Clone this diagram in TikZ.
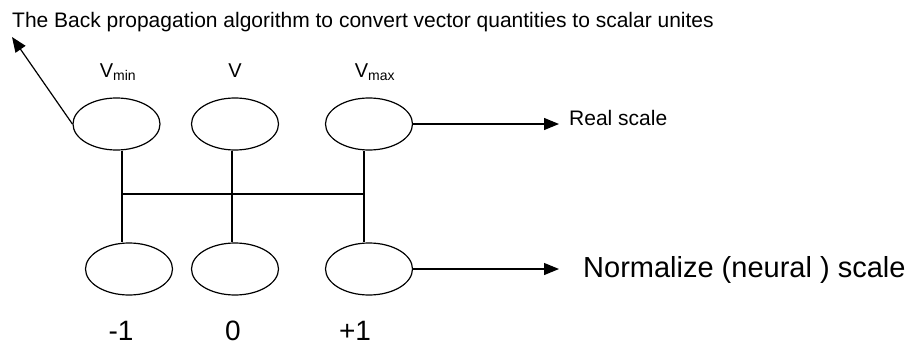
\documentclass[tikz,border=0pt]{standalone}
\usepackage{fontspec}
\setmainfont{Liberation Sans}
\usetikzlibrary{shapes.geometric,arrows.meta}
\begin{document}
\begin{tikzpicture}[x=1pt,y=-1pt,
  oval/.style={draw,ellipse,minimum width=87pt,minimum height=52pt,inner sep=0pt,line width=1.2pt},
  wire/.style={line width=1.2pt},
  arr/.style={line width=1.2pt,-{Triangle[length=15pt,width=12pt]}},
  lab/.style={inner sep=0pt,font=\fontsize{20}{20}\selectfont,anchor=base},
  big/.style={inner sep=0pt,font=\fontsize{28}{28}\selectfont,anchor=base}]
\useasboundingbox (0,0) rectangle (914,343);
\node[inner sep=0pt,anchor=base west,font=\fontsize{21}{21}\selectfont] (title) at (12,27) {The Back propagation algorithm to convert vector quantities to scalar unites};
\node[oval] (t1) at (116.5,124) {};
\node[oval] (t2) at (235,124) {};
\node[oval] (t3) at (369,124) {};
\node[oval] (b1) at (129,269) {};
\node[oval] (b2) at (235,269) {};
\node[oval] (b3) at (369,269) {};
\node[lab] (l1) at (118,77) {V\textsubscript{min}};
\node[lab] (l2) at (235,77) {V};
\node[lab] (l3) at (375,77) {V\textsubscript{max}};
\node[big] (n1) at (121,340) {-1};
\node[big] (n2) at (233,340) {0};
\node[big] (n3) at (355,340) {+1};
\node[inner sep=0pt,anchor=base west,font=\fontsize{21}{21}\selectfont] (real) at (569,125) {Real scale};
\node[inner sep=0pt,anchor=base west,font=\fontsize{29}{29}\selectfont] (norm) at (583,277) {Normalize (neural ) scale};
\coordinate (tip) at (12,37);
\coordinate (rtip) at (559,124);
\coordinate (ntip) at (559,267);
\coordinate (j1) at (122,194);
\coordinate (j2) at (232,194);
\coordinate (j3) at (364,194);
\draw[wire] (j1 |- t1.south) -- (j1 |- b1.north);
\draw[wire] (j2 |- t2.south) -- (j2 |- b2.north);
\draw[wire] (j3 |- t3.south) -- (j3 |- b3.north);
\draw[wire] (j1) -- (j3);
\draw[arr] (t1.west) -- (tip);
\draw[arr] (t3.east) -- (rtip);
\draw[arr] (b3.east) -- (b3.east -| ntip);
\end{tikzpicture}
\end{document}
